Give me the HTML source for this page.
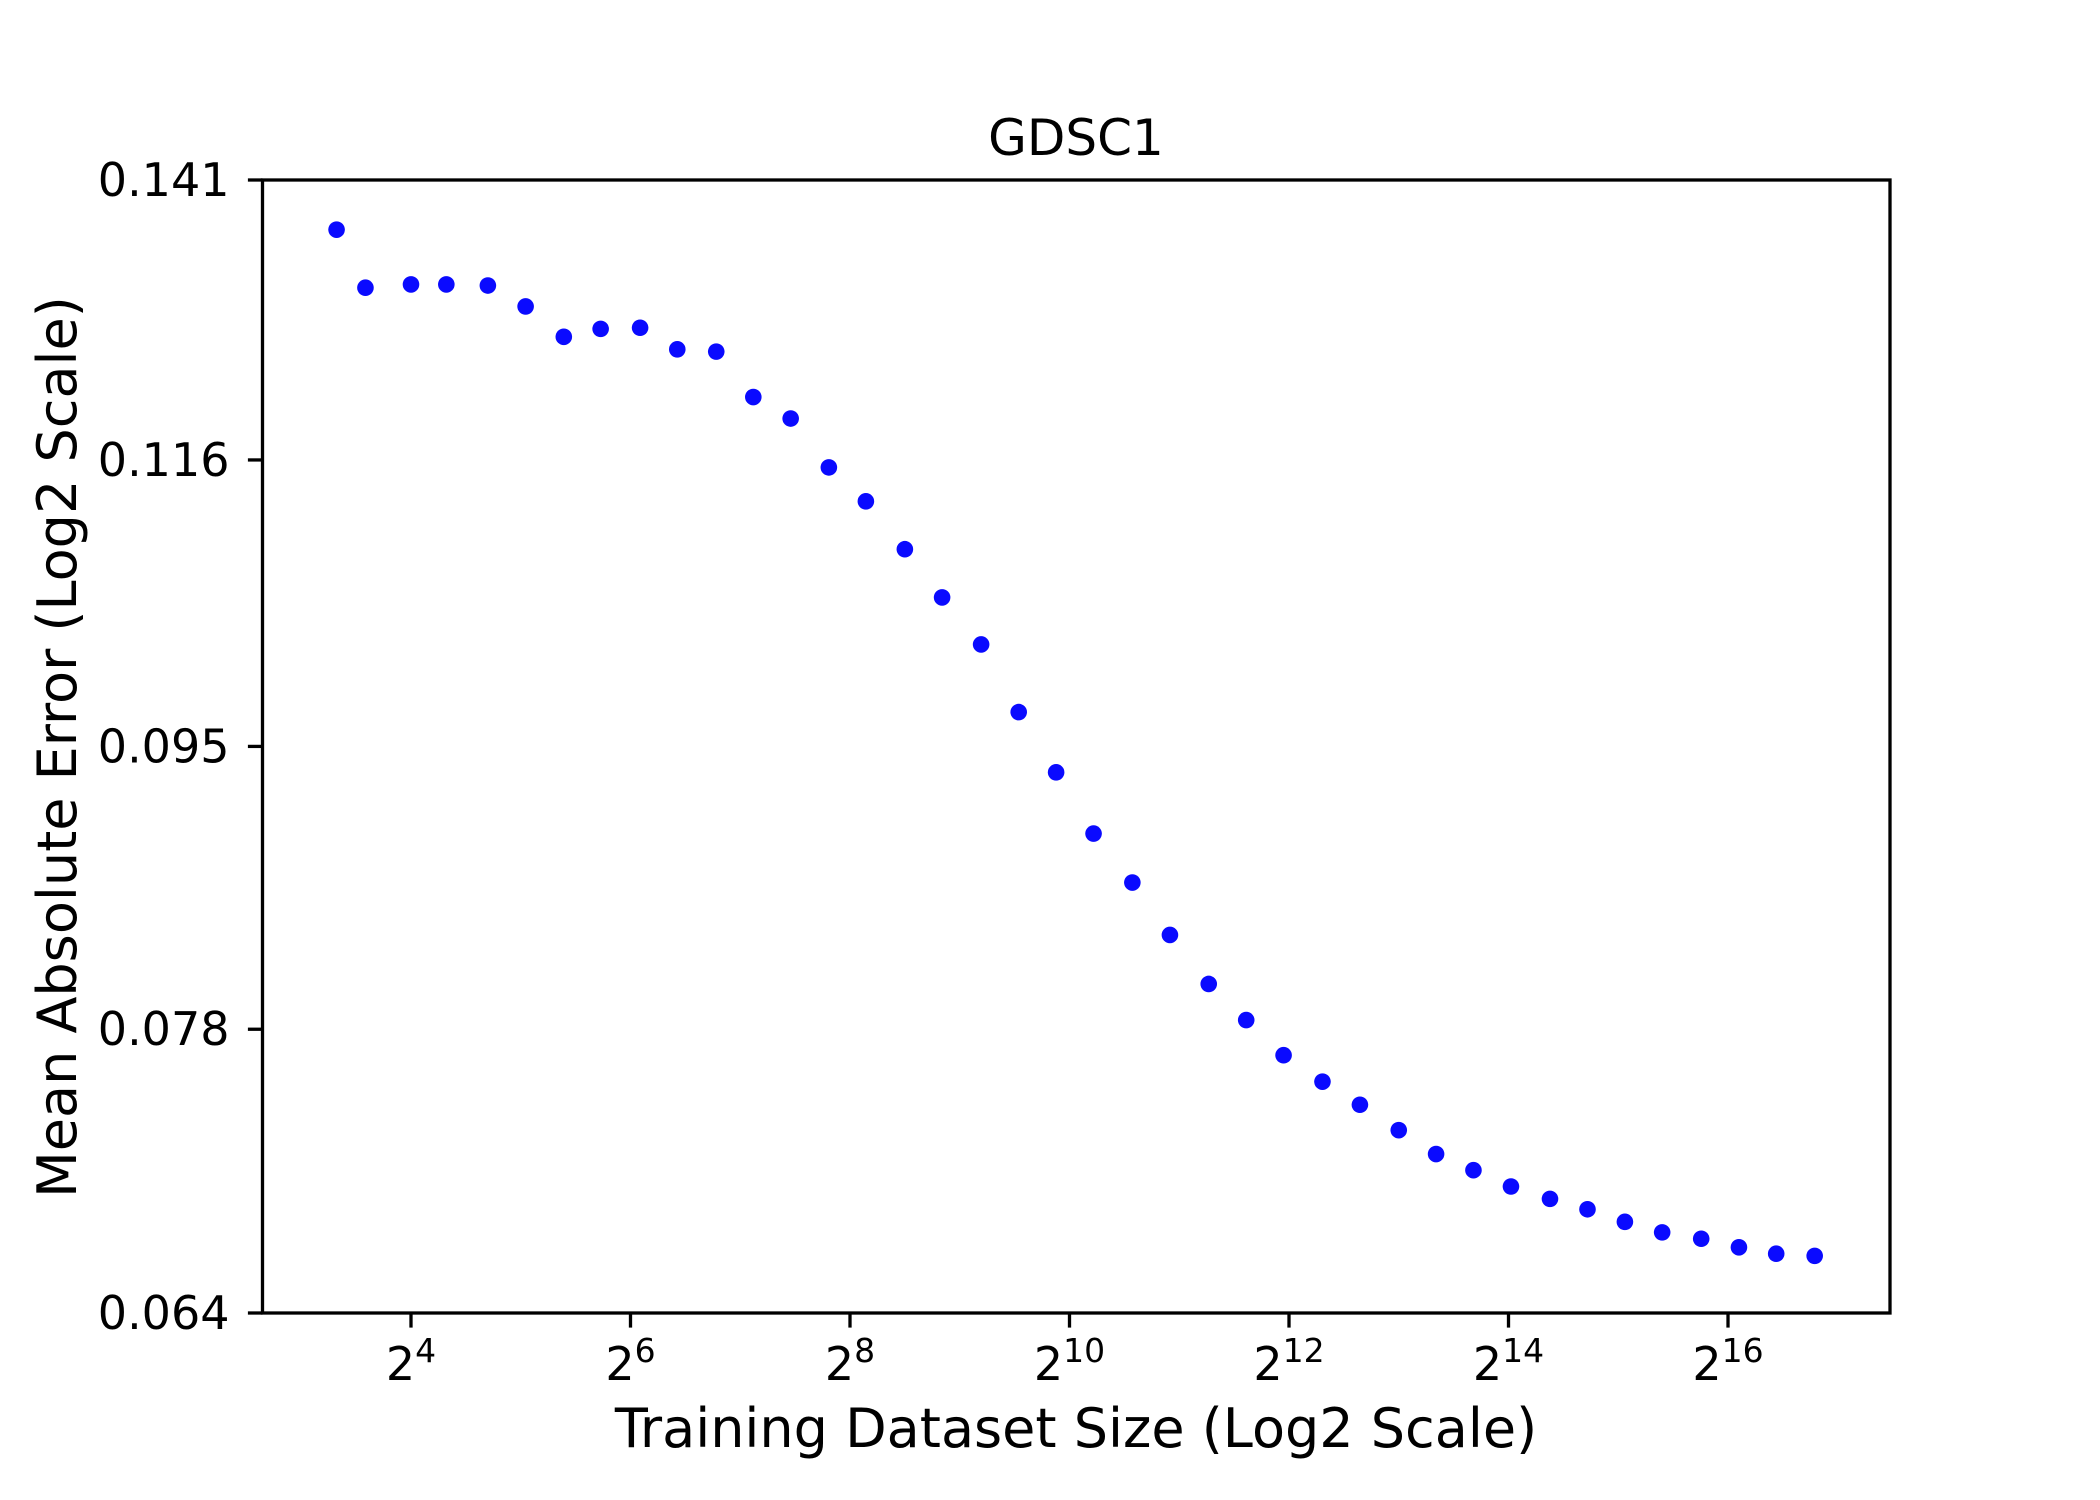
<!DOCTYPE html>
<html><head><meta charset="utf-8"><style>
html,body{margin:0;padding:0;background:#fff}
svg{display:block;font-family:"DejaVu Sans","Liberation Sans",sans-serif}
</style></head><body>
<svg id="chart" width="2100" height="1500" viewBox="0 0 2100 1500" xmlns="http://www.w3.org/2000/svg">
<rect width="2100" height="1500" fill="#fff"/>
<text x="1076" y="155" font-size="50" text-anchor="middle">GDSC1</text>
<text transform="translate(76,747) rotate(-90)" font-size="54" text-anchor="middle">Mean Absolute Error (Log2 Scale)</text>
<text x="1076" y="1447" font-size="54" text-anchor="middle">Training Dataset Size (Log2 Scale)</text>
<g id="marks"></g>
<g id="axes"></g>
<rect x="262.5" y="180" width="1627.5" height="1133" fill="none" stroke="#000" stroke-width="3.3"/>
</svg>
<script>
const sizes = [10,12,16,20,26,33,42,53,68,86,110,139,176,224,283,362,458,586,743,941,1192,1523,1931,2467,3126,3958,5060,6410,8192,10370,13130,16640,21290,26980,34170,43240,55330,70220,88850,113300];
const maeValues = [0.1362,0.1308,0.1311,0.1311,0.1310,0.1291,0.1264,0.1271,0.1272,0.1253,0.1251,0.1212,0.1194,0.1154,0.1127,0.1090,0.1054,0.1020,0.0973,0.0933,0.0894,0.0864,0.0833,0.0805,0.0785,0.0766,0.0752,0.0740,0.0727,0.0715,0.0707,0.0699,0.0693,0.0688,0.0682,0.0677,0.0674,0.0670,0.0667,0.0666];
const yTicks = [0.141,0.116,0.095,0.078,0.064];
const xTickExps = [4,6,8,10,12,14,16];

const L=262.5,R=1890,T=180,B=1313;
const xMin=2.647,xMax=17.476,yMin=0.064,yMax=0.141;
const NS="http://www.w3.org/2000/svg";
function xs(v){return L+(Math.log2(v)-xMin)/(xMax-xMin)*(R-L);}
function ys(v){return B-(Math.log2(v)-Math.log2(yMin))/(Math.log2(yMax)-Math.log2(yMin))*(B-T);}
const marks=document.getElementById('marks');
sizes.forEach((s,i)=>{
  const c=document.createElementNS(NS,'circle');
  c.setAttribute('cx',xs(s));c.setAttribute('cy',ys(maeValues[i]));
  c.setAttribute('r',8.3);c.setAttribute('fill','#0a0aff');
  
  
  marks.appendChild(c);
});
const axes=document.getElementById('axes');
yTicks.forEach(t=>{
  const y=ys(t);
  const l=document.createElementNS(NS,'line');
  l.setAttribute('x1',L-14.6);l.setAttribute('x2',L);l.setAttribute('y1',y);l.setAttribute('y2',y);
  l.setAttribute('stroke','#000');l.setAttribute('stroke-width',3.3);
  
  
  axes.appendChild(l);
  const tx=document.createElementNS(NS,'text');
  tx.setAttribute('x',L-33);tx.setAttribute('y',y+16);
  tx.setAttribute('font-size',46);tx.setAttribute('text-anchor','end');
  tx.textContent=t.toFixed(3);
  
  
  axes.appendChild(tx);
});
xTickExps.forEach(e=>{
  const x=xs(Math.pow(2,e));
  const l=document.createElementNS(NS,'line');
  l.setAttribute('x1',x);l.setAttribute('x2',x);l.setAttribute('y1',B);l.setAttribute('y2',B+14.6);
  l.setAttribute('stroke','#000');l.setAttribute('stroke-width',3.3);
  
  
  axes.appendChild(l);
  const tx=document.createElementNS(NS,'text');
  tx.setAttribute('x',x);tx.setAttribute('y',1380);
  tx.setAttribute('font-size',46);tx.setAttribute('text-anchor','middle');
  const b=document.createElementNS(NS,'tspan');b.textContent='2';
  const s=document.createElementNS(NS,'tspan');s.textContent=String(e);
  s.setAttribute('font-size',33);s.setAttribute('dy',-18);
  tx.appendChild(b);tx.appendChild(s);
  
  
  axes.appendChild(tx);
});
</script>
</body></html>
